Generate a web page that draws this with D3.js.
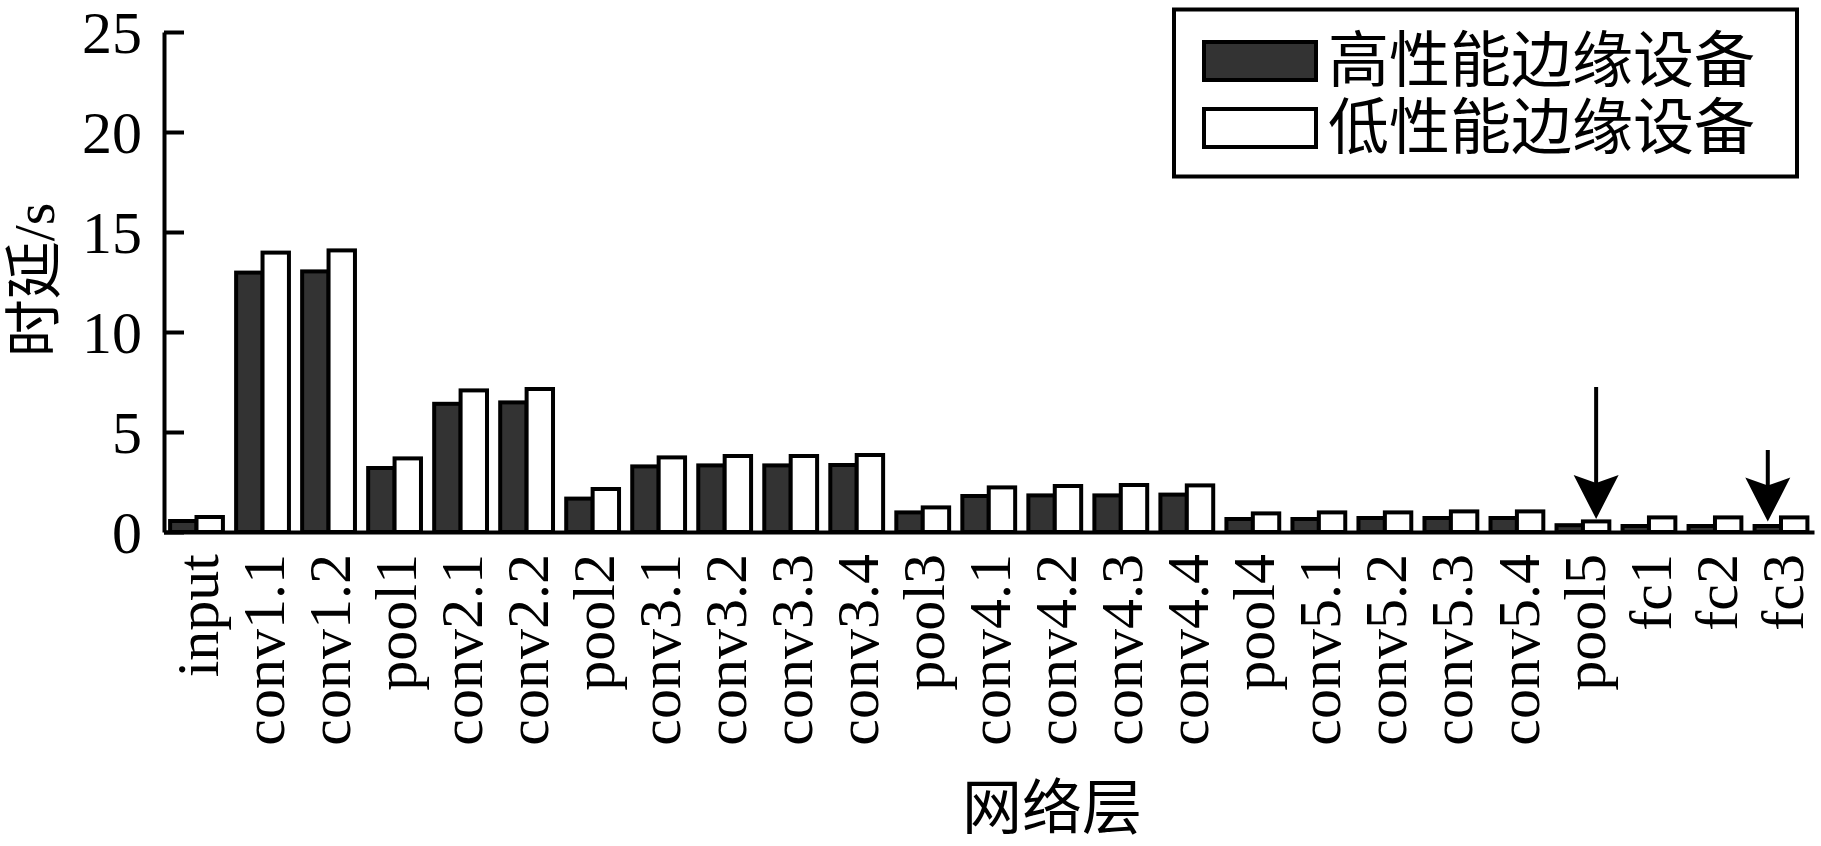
<!DOCTYPE html>
<html>
<head>
<meta charset="utf-8">
<script src="https://cdn.jsdelivr.net/npm/d3@7"></script>
<style>
  html, body { margin: 0; padding: 0; background: #fff; }
  svg { display: block; }
</style>
</head>
<body>
<svg id="chart" width="1821" height="846"></svg>
<script>
// ---------------- data ----------------
const categories = ["input", "conv1.1", "conv1.2", "pool1", "conv2.1", "conv2.2", "pool2",
  "conv3.1", "conv3.2", "conv3.3", "conv3.4", "pool3",
  "conv4.1", "conv4.2", "conv4.3", "conv4.4", "pool4",
  "conv5.1", "conv5.2", "conv5.3", "conv5.4", "pool5", "fc1", "fc2", "fc3"];
const highPerf = [0.55, 12.97, 13.03, 3.2, 6.41, 6.48, 1.67,
  3.28, 3.33, 3.33, 3.35, 0.98,
  1.8, 1.83, 1.83, 1.87, 0.65,
  0.65, 0.7, 0.7, 0.7, 0.34, 0.3, 0.3, 0.3];
const lowPerf = [0.75, 13.97, 14.08, 3.68, 7.08, 7.15, 2.15,
  3.73, 3.8, 3.8, 3.85, 1.23,
  2.23, 2.3, 2.35, 2.33, 0.93,
  0.98, 0.98, 1.03, 1.03, 0.53, 0.73, 0.73, 0.73];
const seriesNames = ["高性能边缘设备", "低性能边缘设备"];
const seriesColors = ["#333333", "#ffffff"];
const yTicks = [0, 5, 10, 15, 20, 25];
const yLabel = "时延/s";
const xLabel = "网络层";
// arrow annotations (category, series index, start value, tip value)
const arrowCats = ["pool5", "fc3"];
const arrowSeries = [1, 0];
const arrowFrom = [7.25, 4.1];
const arrowTo = [0.65, 0.52];

// ---------------- layout ----------------
const svg = d3.select("#chart");
svg.append("rect").attr("width", 1821).attr("height", 846).attr("fill", "#fff");

const latin = "'Liberation Serif', 'Times New Roman', serif";
const cjk = "'Liberation Serif', 'Noto Sans CJK SC', serif";

const x = d3.scaleBand().domain(categories).range([163.5, 1814])
  .paddingInner(0.2).paddingOuter(0.1);
const xs = d3.scaleBand().domain([0, 1]).range([0, x.bandwidth()]).padding(0);
const y = d3.scaleLinear().domain([0, 25]).range([532, 32]);

const series = [highPerf, lowPerf];

// bars
const barsG = svg.append("g");
series.forEach((vals, si) => {
  barsG.selectAll(null)
    .data(categories.map((c, i) => ({ c, v: vals[i] })))
    .join("rect")
    .attr("x", d => x(d.c) + xs(si))
    .attr("y", d => y(d.v))
    .attr("width", xs.bandwidth())
    .attr("height", d => y(0) - y(d.v))
    .attr("fill", seriesColors[si])
    .attr("stroke", "#000")
    .attr("stroke-width", 4);
});

// y axis
const yAxis = svg.append("g")
  .attr("transform", "translate(164,0)")
  .call(d3.axisLeft(y).tickValues(yTicks).tickSizeInner(-20).tickSizeOuter(0).tickPadding(22));
yAxis.select(".domain").attr("stroke", "#000").attr("stroke-width", 4);
yAxis.selectAll(".tick line").attr("stroke", "#000").attr("stroke-width", 4);
yAxis.selectAll(".tick text")
  .attr("font-family", latin).attr("font-size", 60).attr("fill", "#000")
  .attr("dy", "0.34em");

// x axis
const xAxis = svg.append("g")
  .attr("transform", "translate(0,532)")
  .call(d3.axisBottom(x).tickSize(0).tickSizeOuter(0));
xAxis.select(".domain").attr("stroke", "#000").attr("stroke-width", 4);
xAxis.selectAll(".tick text")
  .attr("font-family", latin).attr("font-size", 60).attr("fill", "#000")
  .attr("transform", "rotate(-90)")
  .attr("text-anchor", "end")
  .attr("x", -22)
  .attr("y", 0)
  .attr("dy", "0.36em");

// axis titles
svg.append("text")
  .attr("transform", "translate(34,280) rotate(-90)")
  .attr("text-anchor", "middle")
  .attr("dominant-baseline", "central")
  .attr("font-family", cjk).attr("font-size", 58).attr("fill", "#000")
  .text(yLabel);
svg.append("text")
  .attr("x", 1052).attr("y", 809)
  .attr("text-anchor", "middle")
  .attr("dominant-baseline", "central")
  .attr("font-family", cjk).attr("font-size", 60).attr("fill", "#000")
  .text(xLabel);

// arrows
const arrowsG = svg.append("g");
arrowCats.forEach((c, i) => {
  const cx = x(c) + xs(arrowSeries[i]) + xs.bandwidth() / 2;
  const y0 = y(arrowFrom[i]);
  const yt = y(arrowTo[i]);
  const headL = 44, headW = 45, notch = 8;
  arrowsG.append("line")
    .attr("x1", cx).attr("x2", cx)
    .attr("y1", y0).attr("y2", yt - headL + notch + 2)
    .attr("stroke", "#000").attr("stroke-width", 4);
  arrowsG.append("path")
    .attr("d", `M${cx},${yt} L${cx - headW / 2},${yt - headL} L${cx},${yt - headL + notch} L${cx + headW / 2},${yt - headL} Z`)
    .attr("fill", "#000");
});

// legend
const lg = svg.append("g");
lg.append("rect")
  .attr("x", 1174).attr("y", 9.5).attr("width", 623).attr("height", 167)
  .attr("fill", "#fff").attr("stroke", "#000").attr("stroke-width", 4);
const legendRows = [61, 128];
seriesNames.forEach((n, i) => {
  lg.append("rect")
    .attr("x", 1204).attr("y", legendRows[i] - 19)
    .attr("width", 112).attr("height", 38)
    .attr("fill", seriesColors[i]).attr("stroke", "#000").attr("stroke-width", 4);
  lg.append("text")
    .attr("x", 1328).attr("y", legendRows[i])
    .attr("dominant-baseline", "central")
    .attr("font-family", cjk).attr("font-size", 61).attr("fill", "#000")
    .text(n);
});
</script>
</body>
</html>
